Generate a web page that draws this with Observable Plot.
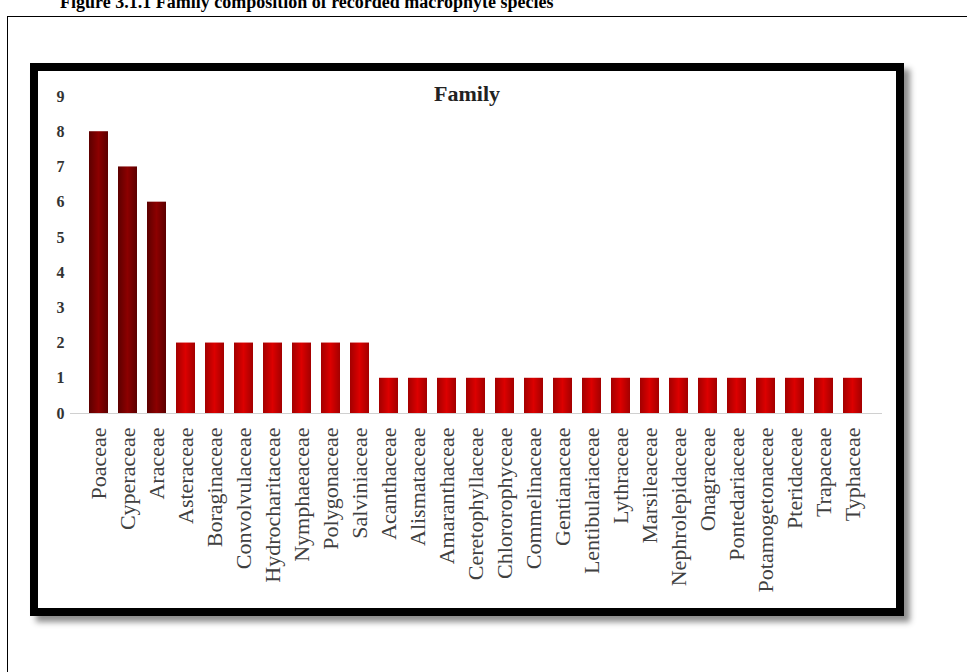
<!DOCTYPE html>
<html><head><meta charset="utf-8">
<script src="https://cdn.jsdelivr.net/npm/d3@7"></script>
<script src="https://cdn.jsdelivr.net/npm/@observablehq/plot@0.6"></script>
<style>
body{margin:0;background:#fff;}
#page{position:relative;width:967px;height:672px;overflow:hidden;font-family:"Liberation Serif","Times New Roman",serif;}
#fig{position:absolute;left:60px;top:-7px;font-weight:bold;font-size:18px;line-height:1;white-space:nowrap;color:#000;}
#outer{position:absolute;left:7px;top:16px;width:1000px;height:700px;border:1.5px solid #000;}
#frame{position:absolute;left:30px;top:63px;width:858px;height:537px;border:8px solid #000;box-shadow:6px 6px 6px rgba(0,0,0,.45);background:#fff;}
#chart{position:absolute;left:0;top:0;}
#ctitle{position:absolute;left:467px;top:83px;transform:translateX(-50%);font-weight:bold;font-size:22px;line-height:1;color:#222;white-space:nowrap;}
</style></head>
<body>
<div id="page">
  <div id="fig">Figure 3.1.1 Family composition of recorded macrophyte species</div>
  <div id="outer"></div>
  <div id="frame"></div>
  <div id="chart"></div>
  <div id="ctitle">Family</div>
</div>
<script>
const families = ["Poaceae","Cyperaceae","Araceae","Asteraceae","Boraginaceae","Convolvulaceae","Hydrocharitaceae","Nymphaeaceae","Polygonaceae","Salviniaceae","Acanthaceae","Alismataceae","Amaranthaceae","Ceretophyllaceae","Chlororophyceae","Commelinaceae","Gentianaceae","Lentibulariaceae","Lythraceae","Marsileaceae","Nephrolepidaceae","Onagraceae","Pontedariaceae","Potamogetonaceae","Pteridaceae","Trapaceae","Typhaceae"];
const counts = [8,7,6,2,2,2,2,2,2,2,1,1,1,1,1,1,1,1,1,1,1,1,1,1,1,1,1];
const yTicks = [0,1,2,3,4,5,6,7,8,9];

const data = families.map((f,i)=>({family:f,count:counts[i]}));

const chart = Plot.plot({
  width: 967,
  height: 672,
  marginLeft: 70,
  marginRight: 85,
  marginTop: 96,
  marginBottom: 259,
  style: {background: "transparent", fontFamily: "'Liberation Serif','Times New Roman',serif"},
  x: {domain: families, padding: 0.33, label: null},
  y: {domain: [0, 9], label: null},
  marks: [
    Plot.barY(data, {x: "family", y: "count", filter: d => d.count >= 6, fill: "url(#gDark)"}),
    Plot.barY(data, {x: "family", y: "count", filter: d => d.count < 6, fill: "url(#gRed)"}),
    Plot.ruleY([0], {stroke: "#d0d0d0", strokeWidth: 1}),
    Plot.axisY({ticks: yTicks, tickSize: 0, tickPadding: 6, tickFormat: d => String(d), label: null,
      fontSize: 16, fontWeight: "bold", fill: "#333"}),
    Plot.axisX({tickSize: 0, tickPadding: 14, tickRotate: -90, label: null, fontSize: 22, fill: "#404040"})
  ]
});

const ns = "http://www.w3.org/2000/svg";
const defs = document.createElementNS(ns, "defs");
function grad(id, edge, mid) {
  const g = document.createElementNS(ns, "linearGradient");
  g.setAttribute("id", id);
  g.setAttribute("x1", "0"); g.setAttribute("x2", "1"); g.setAttribute("y1", "0"); g.setAttribute("y2", "0");
  [[0, edge],[0.5, mid],[1, edge]].forEach(([o,c]) => {
    const s = document.createElementNS(ns, "stop");
    s.setAttribute("offset", o); s.setAttribute("stop-color", c);
    g.appendChild(s);
  });
  defs.appendChild(g);
}
grad("gDark", "#5c0000", "#8c0000");
grad("gRed", "#a30000", "#dc0000");
chart.insertBefore(defs, chart.firstChild);
document.getElementById("chart").appendChild(chart);
</script>
</body></html>
